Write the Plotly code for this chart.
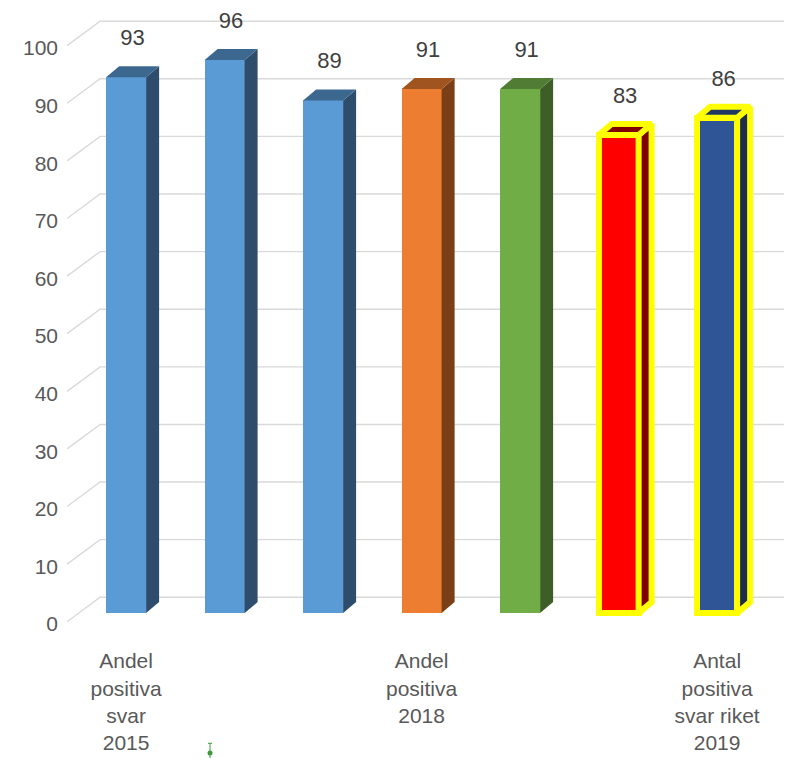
import plotly.graph_objects as go

# ---------------- data ----------------
categories = ["Andel<br>positiva<br>svar<br>2015", "", "",
              "Andel<br>positiva<br>2018", "", "",
              "Antal<br>positiva<br>svar riket<br>2019"]
values = [93, 96, 89, 91, 91, 83, 86]
front_colors = ["#5B9BD5", "#5B9BD5", "#5B9BD5", "#ED7D31", "#70AD47", "#FF0000", "#2F5597"]
side_colors = ["#2E4C6B", "#2E4C6B", "#2E4C6B", "#7A3F16", "#3D5E27", "#800000", "#1B2C4F"]
top_colors = ["#3C6890", "#3C6890", "#3C6890", "#A0541F", "#507D33", "#800000", "#1F3864"]
outline_colors = [None, None, None, None, None, "#FFFF00", "#FFFF00"]
y_ticks = [0, 10, 20, 30, 40, 50, 60, 70, 80, 90, 100]
stray_x = [0.852]
stray_y = [-24.3]

# ---------------- 3D projection constants (axis units) ----------------
BAR_W = 0.406
DEPTH_X = 0.132
DEPTH_Y = 1.91
X_RANGE = [-0.6, 6.75]
Y_RANGE = [-25.5, 104]
X_AXIS_AT = -3          # value at which the category axis sits
GRID_FRONT_DY = -1.5
GRID_BACK_DY = 2.75
GRID_BACK_X = -0.264
OUTLINE_W = 6
PX_PER_UNIT = 5.757
LABEL_OFFSET = 6.5

FONT = "Liberation Sans, Arial, sans-serif"
xs = list(range(len(values)))

fig = go.Figure()

# gridlines (base subplot, drawn behind bars)
gx, gy = [], []
for v in y_ticks:
    gx += [X_RANGE[0], GRID_BACK_X, X_RANGE[1], None]
    gy += [v + GRID_FRONT_DY, v + GRID_BACK_DY, v + GRID_BACK_DY, None]
fig.add_trace(go.Scatter(x=gx, y=gy, mode="lines", line=dict(color="#D9D9D9", width=1.4),
                         hoverinfo="skip", showlegend=False, xaxis="x", yaxis="y"))

# front faces
fig.add_trace(go.Bar(
    x=xs, y=values, width=BAR_W,
    marker=dict(color=front_colors,
                line=dict(color=[c if c else "rgba(0,0,0,0)" for c in outline_colors],
                          width=[OUTLINE_W if c else 0 for c in outline_colors])),
    showlegend=False, xaxis="x2", yaxis="y2"))

# side and top faces
for i, v in enumerate(values):
    xr = i + BAR_W / 2
    xl = i - BAR_W / 2
    lc = outline_colors[i]
    line = dict(color=lc, width=OUTLINE_W) if lc else dict(width=0)
    fig.add_trace(go.Scatter(
        x=[xr, xr + DEPTH_X, xr + DEPTH_X, xr, xr],
        y=[0, DEPTH_Y, v + DEPTH_Y, v, 0],
        fill="toself", fillcolor=side_colors[i], mode="lines", line=line,
        hoverinfo="skip", showlegend=False, xaxis="x2", yaxis="y2"))
    fig.add_trace(go.Scatter(
        x=[xl, xr, xr + DEPTH_X, xl + DEPTH_X, xl],
        y=[v, v, v + DEPTH_Y, v + DEPTH_Y, v],
        fill="toself", fillcolor=top_colors[i], mode="lines", line=line,
        hoverinfo="skip", showlegend=False, xaxis="x2", yaxis="y2"))

# data labels
fig.add_trace(go.Scatter(
    x=[i + DEPTH_X / 2 for i in xs], y=[v + LABEL_OFFSET for v in values],
    text=[str(v) for v in values], mode="text",
    textfont=dict(family=FONT, size=22, color="#404040"),
    cliponaxis=False, hoverinfo="skip", showlegend=False, xaxis="x2", yaxis="y2"))

# stray marker
fig.add_trace(go.Scatter(
    x=stray_x, y=stray_y, mode="markers",
    marker=dict(color="#3A9A3A", size=5),
    error_y=dict(type="constant", value=1.7, color="#3A9A3A", thickness=1, width=2),
    cliponaxis=False, hoverinfo="skip", showlegend=False, xaxis="x2", yaxis="y2"))

plot_h = (Y_RANGE[1] - Y_RANGE[0]) * PX_PER_UNIT
top_m = 6
bottom_m = 758 - top_m - plot_h

fig.update_layout(
    width=792, height=758,
    margin=dict(l=59, r=9, t=top_m, b=bottom_m),
    paper_bgcolor="white", plot_bgcolor="rgba(0,0,0,0)",
    font=dict(family=FONT, color="#595959"),
    xaxis=dict(range=X_RANGE, tickvals=[i for i, c in enumerate(categories) if c],
               ticktext=[c for c in categories if c],
               anchor="free",
               position=(X_AXIS_AT - Y_RANGE[0]) / (Y_RANGE[1] - Y_RANGE[0]),
               showgrid=False, zeroline=False, showline=False, ticks="",
               tickfont=dict(size=21, color="#595959"), ticklabelstandoff=16),
    yaxis=dict(range=Y_RANGE, tickvals=y_ticks, ticktext=[str(v) for v in y_ticks],
               showgrid=False, zeroline=False, showline=False, ticks="",
               tickfont=dict(size=21, color="#595959"), ticklabelshift=11,
               ticklabelstandoff=8),
    xaxis2=dict(range=X_RANGE, overlaying="x", anchor="y2", visible=False),
    yaxis2=dict(range=Y_RANGE, overlaying="y", anchor="x2", visible=False),
    bargap=0,
)

fig.write_html("out.html")
